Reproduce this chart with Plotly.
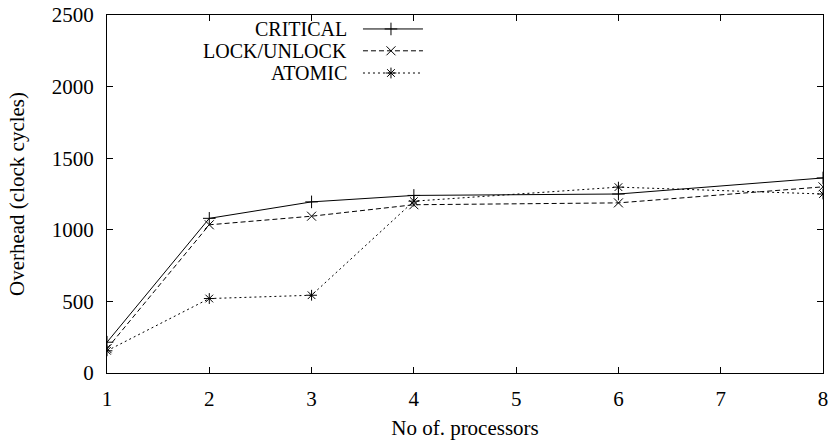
import plotly.graph_objects as go

processors = [1, 2, 3, 4, 6, 8]
critical = [215, 1080, 1195, 1240, 1250, 1362]
lock_unlock = [170, 1035, 1095, 1175, 1188, 1300]
atomic = [155, 520, 543, 1200, 1298, 1250]

series = [
    ("CRITICAL", critical, "solid", "cross-thin"),
    ("LOCK/UNLOCK", lock_unlock, "5px,3px", "x-thin"),
    ("ATOMIC", atomic, "2px,3px", "asterisk"),
]

FONT = "Liberation Serif"
FS = 21
KEY_FS = 20
fig = go.Figure()

for name, vals, dash, sym in series:
    fig.add_trace(go.Scatter(
        x=processors, y=vals, mode="lines+markers", name=name,
        line=dict(color="black", width=1, dash=dash),
        marker=dict(symbol=sym, size=9, color="black", line=dict(color="black", width=1)),
        showlegend=False,
    ))

# gnuplot-style key (text right aligned, sample to the right)
key_rows = [0.961, 0.900, 0.838]
for (name, vals, dash, sym), ky in zip(series, key_rows):
    fig.add_trace(go.Scatter(
        x=[0.3575, 0.4413], y=[ky, ky], xaxis="x2", yaxis="y2", mode="lines",
        line=dict(color="black", width=1, dash=dash), showlegend=False, hoverinfo="skip"))
    fig.add_trace(go.Scatter(
        x=[0.3966], y=[ky], xaxis="x2", yaxis="y2", mode="markers",
        marker=dict(symbol=sym, size=9, color="black", line=dict(color="black", width=1)),
        showlegend=False, hoverinfo="skip"))
    fig.add_annotation(x=0.337, y=ky, xref="x2", yref="y2", text=name, showarrow=False,
                       xanchor="right", yanchor="middle", borderpad=0,
                       font=dict(family=FONT, size=KEY_FS, color="black"))

fig.update_layout(
    width=829, height=446,
    margin=dict(l=107, r=6, t=15, b=73),
    plot_bgcolor="white", paper_bgcolor="white",
    font=dict(family=FONT, size=FS, color="black"),
    showlegend=False,
    xaxis=dict(range=[1, 8], tickvals=[1, 2, 3, 4, 5, 6, 7, 8], showgrid=False, zeroline=False,
               showline=True, linecolor="black", linewidth=1, mirror="ticks",
               ticks="inside", ticklen=6, tickcolor="black", automargin=False,
               ticklabelstandoff=7,
               title=dict(text="No of. processors", font=dict(family=FONT, size=FS), standoff=10)),
    yaxis=dict(range=[0, 2500], tickvals=[0, 500, 1000, 1500, 2000, 2500], showgrid=False, zeroline=False,
               showline=True, linecolor="black", linewidth=1, mirror="ticks",
               ticks="inside", ticklen=6, tickcolor="black", automargin=False,
               ticklabelstandoff=8,
               title=dict(text="Overhead (clock cycles)", font=dict(family=FONT, size=FS), standoff=21)),
    xaxis2=dict(overlaying="x", range=[0, 1], visible=False, fixedrange=True),
    yaxis2=dict(overlaying="y", range=[0, 1], visible=False, fixedrange=True),
)

fig.write_html("out.html", config={"displayModeBar": False})
with open("out.html", encoding="utf-8") as f:
    html = f.read()
html = html.replace("<body>", '<body style="margin:0;padding:0;">', 1)
with open("out.html", "w", encoding="utf-8") as f:
    f.write(html)
